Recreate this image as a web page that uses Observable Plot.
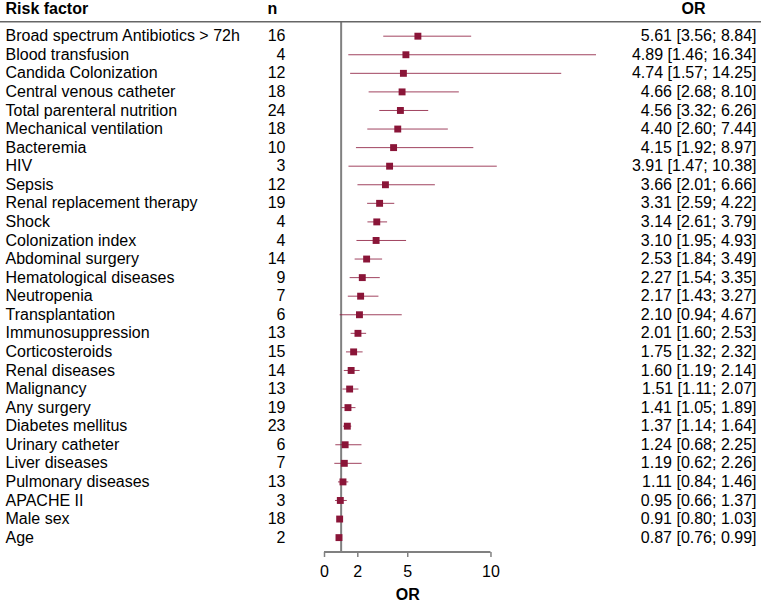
<!DOCTYPE html>
<html>
<head>
<meta charset="utf-8">
<script src="https://cdn.jsdelivr.net/npm/d3@7"></script>
<script src="https://cdn.jsdelivr.net/npm/@observablehq/plot@0.6"></script>
<style>
  body { margin: 0; background: #fff; }
  svg { display: block; }
</style>
</head>
<body>
<div id="chart"></div>
<script>
const factors = [
  "Broad spectrum Antibiotics > 72h", "Blood transfusion", "Candida Colonization",
  "Central venous catheter", "Total parenteral nutrition", "Mechanical ventilation",
  "Bacteremia", "HIV", "Sepsis", "Renal replacement therapy", "Shock",
  "Colonization index", "Abdominal surgery", "Hematological diseases", "Neutropenia",
  "Transplantation", "Immunosuppression", "Corticosteroids", "Renal diseases",
  "Malignancy", "Any surgery", "Diabetes mellitus", "Urinary catheter",
  "Liver diseases", "Pulmonary diseases", "APACHE II", "Male sex", "Age"
];
const nStudies = [16, 4, 12, 18, 24, 18, 10, 3, 12, 19, 4, 4, 14, 9, 7, 6, 13, 15, 14, 13, 19, 23, 6, 7, 13, 3, 18, 2];
const orValues = [5.61, 4.89, 4.74, 4.66, 4.56, 4.40, 4.15, 3.91, 3.66, 3.31, 3.14, 3.10, 2.53, 2.27, 2.17, 2.10, 2.01, 1.75, 1.60, 1.51, 1.41, 1.37, 1.24, 1.19, 1.11, 0.95, 0.91, 0.87];
const ciLower = [3.56, 1.46, 1.57, 2.68, 3.32, 2.60, 1.92, 1.47, 2.01, 2.59, 2.61, 1.95, 1.84, 1.54, 1.43, 0.94, 1.60, 1.32, 1.19, 1.11, 1.05, 1.14, 0.68, 0.62, 0.84, 0.66, 0.80, 0.76];
const ciUpper = [8.84, 16.34, 14.25, 8.10, 6.26, 7.44, 8.97, 10.38, 6.66, 4.22, 3.79, 4.93, 3.49, 3.35, 3.27, 4.67, 2.53, 2.32, 2.14, 2.07, 1.89, 1.64, 2.25, 2.26, 1.46, 1.37, 1.03, 0.99];
const xTicks = [0, 2, 5, 10];
const refValue = 1;
const headers = ["Risk factor", "n", "OR"];
const axisLabel = "OR";

const rows = factors.map((f, i) => ({
  factor: f, n: nStudies[i], or: orValues[i], lo: ciLower[i], hi: ciUpper[i],
  label: `${orValues[i].toFixed(2)} [${ciLower[i].toFixed(2)}; ${ciUpper[i].toFixed(2)}]`
}));

const W = 761, H = 603, mL = 324, mR = 154, mB = 51, mT = 22;
const maroon = "#8a1538";
const font = "Liberation Sans, Arial, Helvetica, sans-serif";
const head = { frameAnchor: "top-left", lineAnchor: "middle", dy: -14, fontWeight: "bold", fontSize: 16, fill: "#000", text: d => d };

const chart = Plot.plot({
  width: W, height: H,
  marginLeft: mL, marginRight: mR, marginTop: mT, marginBottom: mB,
  style: { fontFamily: font, fontSize: "16px", color: "#000", background: "#fff" },
  x: { domain: [0, 17] },
  y: { domain: factors, type: "point", padding: 0.5, round: false, insetTop: 4.4, insetBottom: 5.6, axis: null },
  marks: [
    Plot.ruleX([refValue], { stroke: "#808080", strokeWidth: 2 }),
    Plot.ruleY(rows, { y: "factor", x1: "lo", x2: "hi", stroke: maroon, strokeWidth: 1, strokeOpacity: 0.8 }),
    Plot.dot(rows, { y: "factor", x: "or", symbol: "square", r: 3.9, fill: maroon, stroke: "none" }),
    Plot.text(rows, { y: "factor", text: "factor", frameAnchor: "left", textAnchor: "start", dx: 5 - mL, fill: "#000", fontSize: 16 }),
    Plot.text(rows, { y: "factor", text: d => String(d.n), frameAnchor: "left", textAnchor: "end", dx: 285 - mL, fill: "#000", fontSize: 16 }),
    Plot.text(rows, { y: "factor", text: "label", frameAnchor: "right", textAnchor: "end", dx: mR - 5, fill: "#000", fontSize: 16 }),
    Plot.text([headers[0]], { ...head, textAnchor: "start", dx: 5 - mL }),
    Plot.text([headers[1]], { ...head, textAnchor: "middle", dx: 272 - mL }),
    Plot.text([headers[2]], { ...head, frameAnchor: "top-right", textAnchor: "middle", dx: 693 - (W - mR) }),
    Plot.axisX({ ticks: xTicks, tickFormat: d => String(d), tickSize: 5, tickPadding: 8, stroke: "#808080", strokeWidth: 1.5, label: null, fontSize: 16, color: "#000" }),
    Plot.text([axisLabel], { x: [5], text: d => d, frameAnchor: "bottom", lineAnchor: "middle", dy: 42.5, fontWeight: "bold", fontSize: 16, fill: "#000" })
  ]
});

const svg = d3.select(chart);
// header separator across the full width
svg.append("line")
  .attr("x1", 0).attr("x2", W).attr("y1", mT - 0.3).attr("y2", mT - 0.3)
  .attr("stroke", "#666").attr("stroke-width", 1.4);
// axis baseline from first to last tick, positioned through Plot's x scale
const xs = chart.scale("x");
svg.append("line")
  .attr("x1", xs.apply(xTicks[0])).attr("x2", xs.apply(xTicks[xTicks.length - 1]))
  .attr("y1", H - mB).attr("y2", H - mB)
  .attr("stroke", "#808080").attr("stroke-width", 2);

document.getElementById("chart").appendChild(chart);
</script>
</body>
</html>
